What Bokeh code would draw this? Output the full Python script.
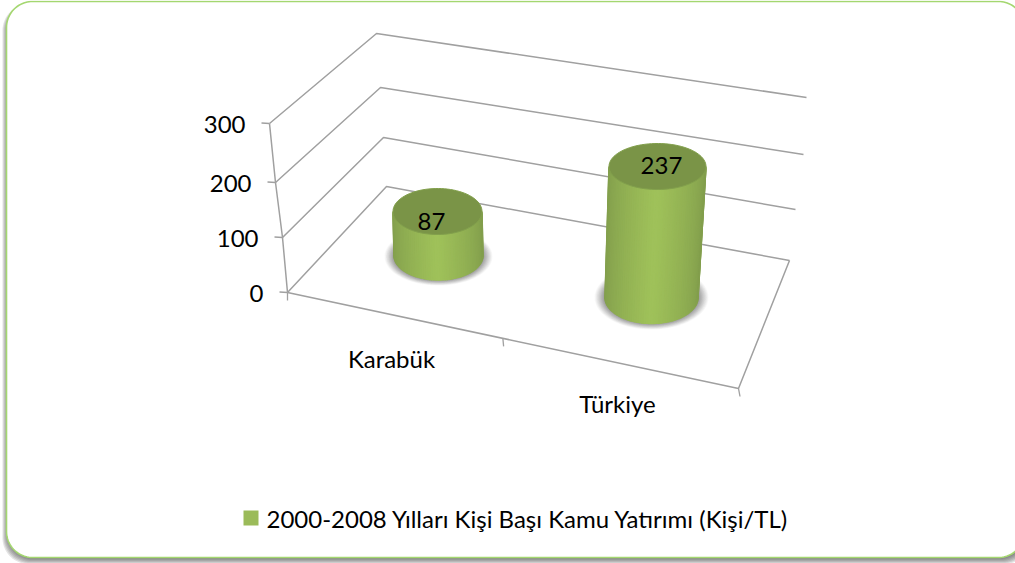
import numpy as np
from bokeh.plotting import figure
from bokeh.core.properties import value
from bokeh.embed import file_html
from bokeh.resources import INLINE

# ---- data ----
categories = ["Karabük", "Türkiye"]
values = [87, 237]
y_ticks = [0, 100, 200, 300]
series_name = "2000-2008 Yılları Kişi Başı Kamu Yatırımı (Kişi/TL)"

# ---- 3D projection (screen px) ----
FONT = value("Lato")
SIZE = "24px"
front_left = {0: (287, 292), 100: (282, 237), 200: (275, 182), 300: (269, 123)}
back_left = {0: (386, 186), 100: (383, 137), 200: (380, 87), 300: (376, 33)}
back_right = {0: (789, 260), 100: (795, 209), 200: (803, 154), 300: (806, 97)}
front_right_floor = (738, 388)
cat_geo = [
    dict(base=(438, 255), rx0=44.5, ry0=24.5, rise=(-1 / 87, -44 / 87), rx1=44.5, ry1=23,
         shadow=(54, 29, 256), label=(391, 358), val_offset=(-6, 10)),
    dict(base=(651, 297), rx0=46.5, ry0=26, rise=(6 / 237, -131 / 237), rx1=48.5, ry1=23,
         shadow=(57, 32, 297), label=(617, 403), val_offset=(4, -1)),
]

p = figure(width=1015, height=563, x_range=(0, 1015), y_range=(563, 0),
           toolbar_location=None, output_backend="svg", min_border=0,
           background_fill_color="white", border_fill_color="white",
           outline_line_color=None)
p.axis.visible = False
p.grid.visible = False
p.styles = {"position": "absolute", "left": "0", "top": "0"}


def rrect(x0, y0, x1, y1, r):
    xs, ys = [], []
    for cx, cy, a0 in [(x1 - r, y0 + r, -90), (x1 - r, y1 - r, 0), (x0 + r, y1 - r, 90), (x0 + r, y0 + r, 180)]:
        t = np.radians(np.linspace(a0, a0 + 90, 24))
        xs += list(cx + r * np.cos(t))
        ys += list(cy + r * np.sin(t))
    return xs, ys


# card with soft shadow
for g in range(6, 0, -1):
    sx, sy = rrect(6 - g + 2, 1 + 3, 1024 + g, 557 + g + 0.5, 26)
    p.patch(sx, sy, fill_color="#404040", fill_alpha=0.14, line_color=None)
cx, cy = rrect(6, 1, 1024, 557, 26)
p.patch(cx, cy, fill_color="white", line_color="#a4d770", line_width=1.6)

GRID = "#a0a0a0"
# walls / gridlines
for t in y_ticks:
    fl, bl, br = front_left[t], back_left[t], back_right[t]
    p.line([fl[0], bl[0], br[0]], [fl[1], bl[1], br[1]], line_color=GRID, line_width=1.5)
    p.line([fl[0] - 8, fl[0]], [fl[1] - 0.5, fl[1]], line_color=GRID, line_width=1.6)
    p.text([fl[0] - 24], [fl[1] + 1], text=[str(t)], text_font=FONT, text_font_size=SIZE,
           text_align="right", text_baseline="middle", text_color="black")
# vertical axis
p.line([front_left[t][0] for t in y_ticks], [front_left[t][1] for t in y_ticks], line_color=GRID, line_width=1.5)
# floor
f0, b0, br0 = front_left[0], back_left[0], back_right[0]
p.line([br0[0], front_right_floor[0], f0[0]], [br0[1], front_right_floor[1], f0[1]], line_color=GRID, line_width=1.5)
# category boundary ticks on the floor's front edge
n = len(categories)
for i, frac in enumerate(np.linspace(0, 1, n + 1)):
    tx = f0[0] + (front_right_floor[0] - f0[0]) * (frac * (0.955 if i == 1 else 1))
    ty = f0[1] + (front_right_floor[1] - f0[1]) * (frac * (0.955 if i == 1 else 1))
    dx = 1.5 * frac
    p.line([tx, tx + dx], [ty, ty + 8], line_color=GRID, line_width=1.3)


def ellipse_poly(cx, cy, rx, ry, a0=0, a1=360, k=90):
    t = np.radians(np.linspace(a0, a1, k))
    return cx + rx * np.cos(t), cy + ry * np.sin(t)


def side_color(u):
    # u in 0..1 across the cylinder; lightest a little left of the centre
    dark = np.array([130, 158, 76])
    light = np.array([160, 194, 90])
    w = max(0.0, 1 - abs(u - 0.5) / 0.5) ** 0.7
    c = dark + (light - dark) * w
    return "#%02x%02x%02x" % tuple(int(round(x)) for x in c)


for v, g in zip(values, cat_geo):
    bx, by = g["base"]
    tx, ty = bx + v * g["rise"][0], by + v * g["rise"][1]
    # shadow: many faint ellipses so that the rim fades out
    srx, sry, scy = g["shadow"]
    for k in range(16):
        f = 1 - k * 0.014
        ex, ey = ellipse_poly(bx, scy, srx * f, sry * f)
        p.patch(list(ex), list(ey), fill_color="#505050", fill_alpha=0.035 + 0.004 * k, line_color=None)
    # side, strips between the top rim and the bottom rim
    N = 60
    angles = np.linspace(np.pi, 0, N + 1)
    xs, ys, cols = [], [], []
    for i in range(N):
        a, b = angles[i], angles[i + 1]
        xs.append([tx + g["rx1"] * np.cos(a), tx + g["rx1"] * np.cos(b),
                   bx + g["rx0"] * np.cos(b), bx + g["rx0"] * np.cos(a)])
        ys.append([ty + g["ry1"] * np.sin(a), ty + g["ry1"] * np.sin(b),
                   by + g["ry0"] * np.sin(b), by + g["ry0"] * np.sin(a)])
        cols.append(side_color(0.5 * (1 - np.cos((a + b) / 2))))
    p.patches(xs, ys, fill_color=cols, line_color=cols, line_width=1.5)
    # top
    ex, ey = ellipse_poly(tx, ty, g["rx1"], g["ry1"])
    p.patch(list(ex), list(ey), fill_color="#7a9447", line_color="#82a04c", line_width=1)
    p.text([tx + g["val_offset"][0]], [ty + g["val_offset"][1]], text=[str(v)], text_font=FONT,
           text_font_size=SIZE, text_align="center", text_baseline="middle", text_color="black")

for c, g in zip(categories, cat_geo):
    p.text([g["label"][0]], [g["label"][1]], text=[c], text_font=FONT, text_font_size=SIZE,
           text_align="center", text_baseline="middle", text_color="black")

# legend
p.patch([243, 258, 258, 243], [510, 510, 525, 525], fill_color="#9bbb59", line_color=None)
p.text([266], [518], text=[series_name], text_font=FONT, text_font_size=SIZE,
       text_align="left", text_baseline="middle", text_color="black")

open("out.html", "w").write(file_html(p, INLINE))
